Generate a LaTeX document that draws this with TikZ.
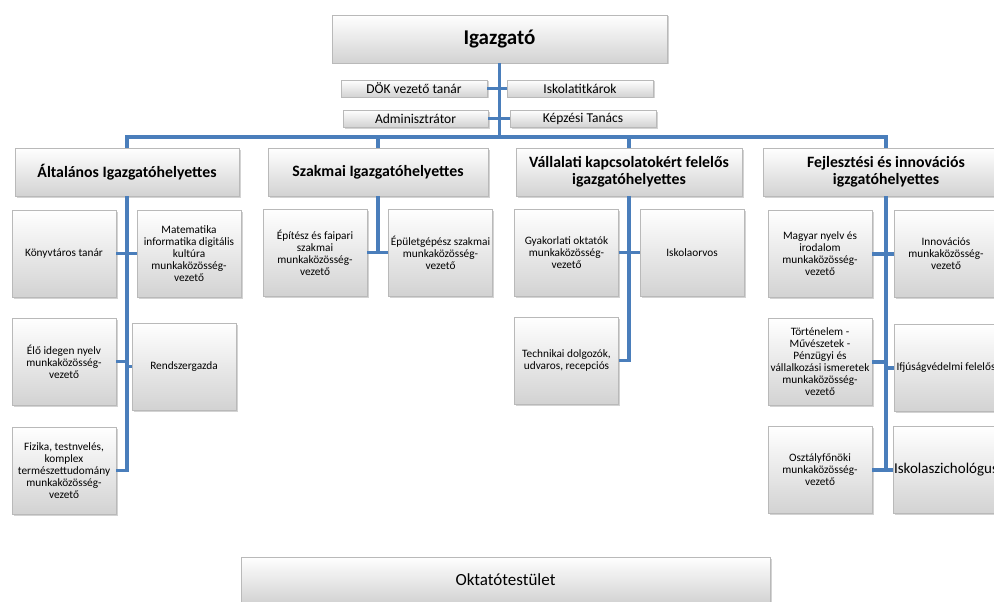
\documentclass[tikz,border=0pt]{standalone}
\usepackage{fontspec}
\setmainfont{Carlito}
\usetikzlibrary{shadows}
\definecolor{vonalkek}{RGB}{74,126,187}

\begin{document}
\begin{tikzpicture}[x=1pt,y=-1pt,
    doboz/.style={draw=gray!55, top color=white, bottom color=gray!35,
        drop shadow={opacity=0.35, shadow xshift=1.5pt, shadow yshift=-1.5pt},
        inner sep=1pt, align=center},
    fonok/.style={doboz, font=\fontsize{21}{25}\selectfont\bfseries,
        minimum width=335pt, minimum height=48pt},
    kisdoboz/.style={doboz, font=\fontsize{13.5}{16}\selectfont,
        minimum width=146pt, minimum height=17pt, inner sep=0pt},
    helyettes/.style={doboz, font=\fontsize{15.8}{17}\selectfont\bfseries,
        minimum height=48pt},
    tag/.style={doboz, font=\fontsize{11.3}{12}\selectfont,
        minimum width=104pt, minimum height=87pt},
    vonal/.style={draw=vonalkek, line width=3.5pt}]

    \useasboundingbox (0,0) rectangle (994,602);

    \node[fonok] (igazgato) at (499.5,39) {Igazgató};
    \node[kisdoboz] (dok) at (414,88.5) {DÖK vezető tanár};
    \node[kisdoboz] (titkar) at (580,88.5) {Iskolatitkárok};
    \node[kisdoboz, minimum width=145pt] (admin) at (415.5,118.5) {Adminisztrátor};
    \node[kisdoboz] (kepzesi) at (583,118.5) {Képzési Tanács};
    \coordinate (busz) at (499.5,137);

    \node[helyettes, minimum width=224pt] (altalanos) at (127,172) {Általános Igazgatóhelyettes};
    \node[helyettes, minimum width=220pt] (szakmai) at (378,172) {Szakmai Igazgatóhelyettes};
    \node[helyettes, minimum width=226pt] (vallalati) at (629,172) {Vállalati kapcsolatokért felelős\\igazgatóhelyettes};
    \node[helyettes, minimum width=246pt] (fejlesztesi) at (886,172) {Fejlesztési és innovációs\\igzgatóhelyettes};

    \node[tag] (konyvtar) at (64,253.5) {Könyvtáros tanár};
    \node[tag] (matek) at (189,253.5) {Matematika\\informatika digitális\\kultúra\\munkaközösség-\\vezető};
    \node[tag] (idegen) at (64,361.5) {Élő idegen nyelv\\munkaközösség-\\vezető};
    \node[tag] (rendszer) at (184,366.5) {Rendszergazda};
    \node[tag] (fizika) at (64,470.5) {Fizika, testnvelés,\\komplex\\természettudomány\\munkaközösség-\\vezető};

    \node[tag] (epitesz) at (315,252.5) {Építész és faipari\\szakmai\\munkaközösség-\\vezető};
    \node[tag] (epuletgep) at (440.5,252.5) {Épületgépész szakmai\\munkaközösség-\\vezető};

    \node[tag] (gyakorlati) at (566.5,252.5) {Gyakorlati oktatók\\munkaközösség-\\vezető};
    \node[tag] (orvos) at (692,252.5) {Iskolaorvos};
    \node[tag] (technikai) at (566.5,360.5) {Technikai dolgozók,\\udvaros, recepciós};

    \node[tag] (magyar) at (820,254) {Magyar nyelv és\\irodalom\\munkaközösség-\\vezető};
    \node[tag] (innovacio) at (946,254) {Innovációs\\munkaközösség-\\vezető};
    \node[tag] (tortenelem) at (820,362) {Történelem -\\Művészetek -\\Pénzügyi és\\vállalkozási ismeretek\\munkaközösség-\\vezető};
    \node[tag] (ifjusag) at (946,368) {Ifjúságvédelmi felelős};
    \node[tag] (osztalyfonok) at (820,470) {Osztályfőnöki\\munkaközösség-\\vezető};
    \node[tag, font=\fontsize{15}{18}\selectfont] (pszicho) at (946,470) {Iskolaszichológus};

    \node[doboz, font=\fontsize{17}{20}\selectfont, minimum width=529pt, minimum height=46pt] (oktato) at (505.5,580) {Oktatótestület};

    \draw[vonal] (igazgato.south) -- (busz);
    \draw[vonal] (dok.east) -- (dok.east -| igazgato.south);
    \draw[vonal] (titkar.west) -- (titkar.west -| igazgato.south);
    \draw[vonal] (admin.east) -- (admin.east -| igazgato.south);
    \draw[vonal] (kepzesi.west) -- (kepzesi.west -| igazgato.south);
    \draw[vonal] (altalanos.north) |- (busz) -| (fejlesztesi.north);
    \draw[vonal] (szakmai.north) -- (szakmai.north |- busz);
    \draw[vonal] (vallalati.north) -- (vallalati.north |- busz);

    \draw[vonal] (altalanos.south) |- (fizika.east);
    \draw[vonal] (konyvtar.east) -- (matek.west);
    \draw[vonal] (idegen.east) -- (idegen.east -| altalanos.south);
    \draw[vonal] (rendszer.west) -- (rendszer.west -| altalanos.south);

    \draw[vonal] (szakmai.south) -- (szakmai.south |- epitesz.east);
    \draw[vonal] (epitesz.east) -- (epuletgep.west);

    \draw[vonal] (vallalati.south) |- (technikai.east);
    \draw[vonal] (gyakorlati.east) -- (orvos.west);

    \draw[vonal] (fejlesztesi.south) -- (fejlesztesi.south |- osztalyfonok.east);
    \draw[vonal] (magyar.east) -- (innovacio.west);
    \draw[vonal] (tortenelem.east) -- (tortenelem.east -| fejlesztesi.south);
    \draw[vonal] (ifjusag.west) -- (ifjusag.west -| fejlesztesi.south);
    \draw[vonal] (osztalyfonok.east) -- (pszicho.west);
\end{tikzpicture}
\end{document}
